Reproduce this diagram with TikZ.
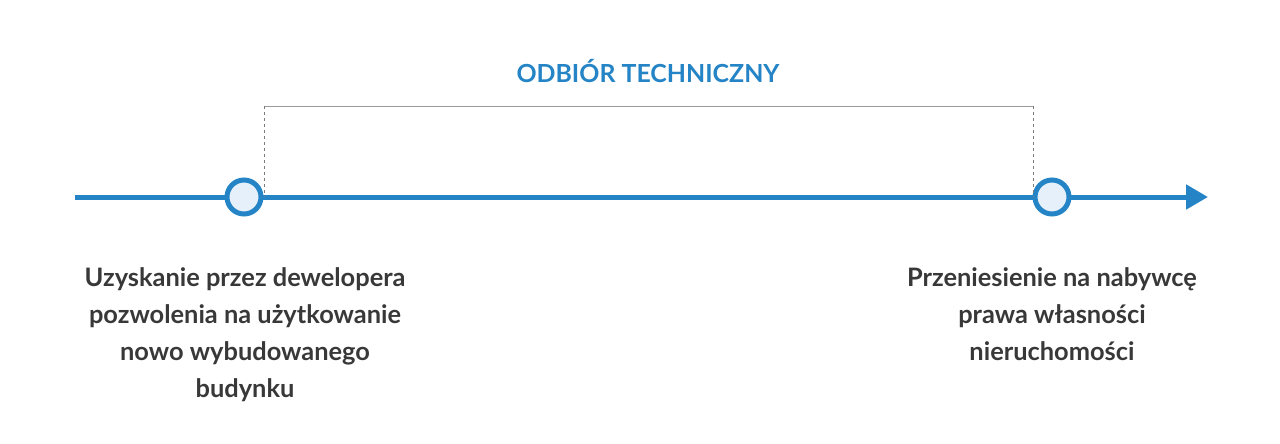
\documentclass[tikz,border=0pt]{standalone}
\usepackage{fontspec}
\setmainfont{Lato}
\usetikzlibrary{arrows.meta}
\definecolor{axisblue}{HTML}{2484C6}
\definecolor{dotfill}{HTML}{E6F0FA}
\definecolor{txt}{HTML}{383838}
\definecolor{brk}{HTML}{9A9A9A}
\tikzset{
  dot/.style={circle,draw=axisblue,line width=5pt,fill=dotfill,minimum size=34pt,inner sep=0pt},
  lbl/.style={align=center,text=txt,font=\fontsize{25.4}{37}\selectfont\bfseries,anchor=north},
  brline/.style={draw=brk,line width=0.9pt},
  brdash/.style={draw=brk!80!black,line width=0.9pt,dash pattern=on 3pt off 3pt}
}
\begin{document}
\begin{tikzpicture}[x=1pt,y=-1pt]
\useasboundingbox (0,0) rectangle (1280,444);
\coordinate (start) at (75,197);
\coordinate (end) at (1208,197);
\draw[axisblue,line width=5pt,-{Triangle[length=22pt,width=24pt]}] (start) -- (end);
\node[dot] (d1) at (244,197) {};
\node[dot] (d2) at (1052,197) {};
\coordinate (b1) at (264,106);
\coordinate (b2) at (1033,106);
\draw[brline] (b1) -- (b2);
\draw[brdash] (b1) -- (b1 |- d1.east);
\draw[brdash] (b2) -- (b2 |- d2.west);
\node[text=axisblue,font=\fontsize{24.9}{28}\selectfont\bfseries,anchor=base] (title) at (648,83) {ODBIÓR TECHNICZNY};
\node[lbl] (l1) at (245,264) {Uzyskanie przez dewelopera\\pozwolenia na użytkowanie\\nowo wybudowanego\\budynku};
\node[lbl] (l2) at (1052,264) {Przeniesienie na nabywcę\\prawa własności\\nieruchomości};
\end{tikzpicture}
\end{document}
